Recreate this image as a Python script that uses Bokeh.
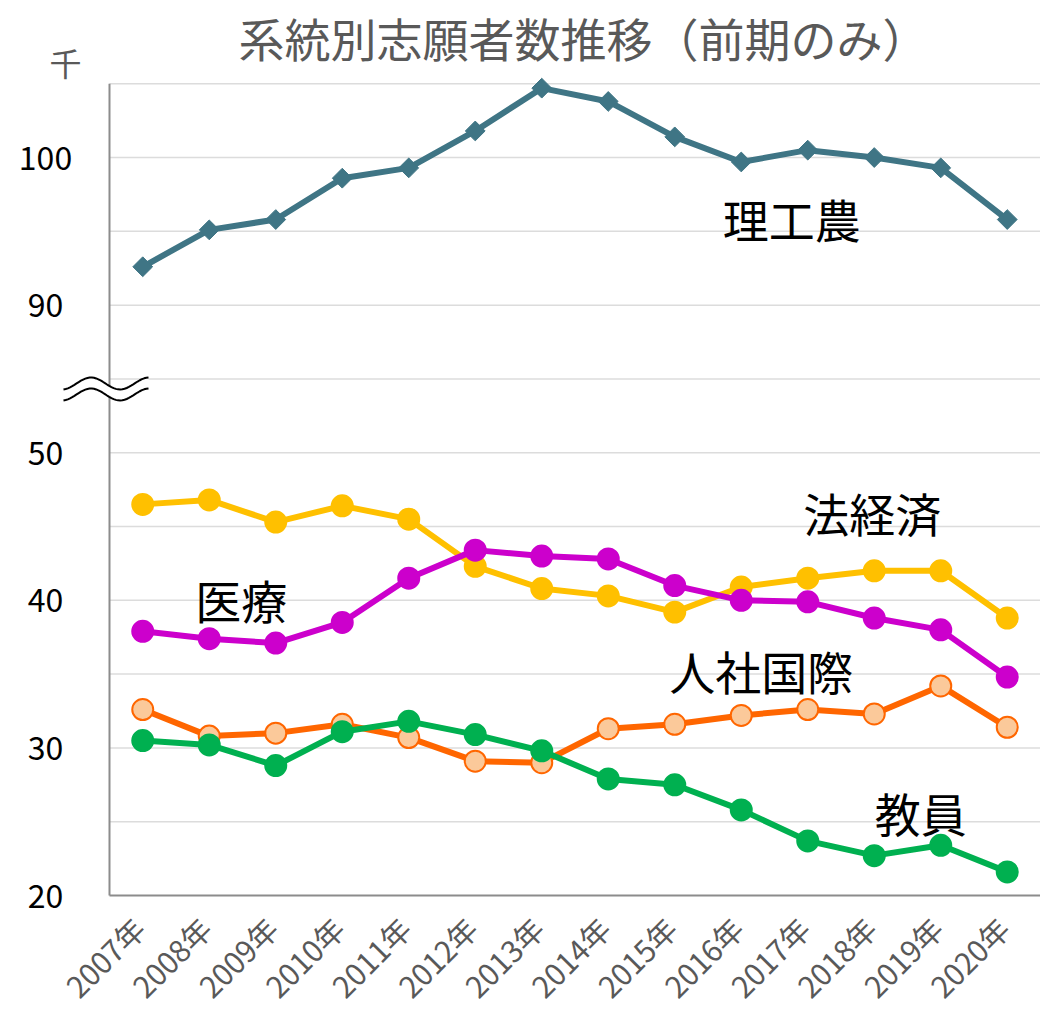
import numpy as np
from bokeh.plotting import figure
from bokeh.models import Range1d, Label
from bokeh.core.properties import value
from bokeh.embed import file_html
from bokeh.resources import INLINE

# ---- data (thousands of applicants) ----
years = list(range(2007, 2021))
year_labels = [f"{y}年" for y in years]
rikounou = [92.6, 95.1, 95.8, 98.6, 99.3, 101.8, 104.7, 103.8, 101.4, 99.7, 100.5, 100.0, 99.3, 95.8]
houkeizai = [46.5, 46.8, 45.3, 46.4, 45.5, 42.3, 40.8, 40.3, 39.2, 40.9, 41.5, 42.0, 42.0, 38.8]
iryou = [37.9, 37.4, 37.1, 38.5, 41.5, 43.4, 43.0, 42.8, 41.0, 40.0, 39.9, 38.8, 38.0, 34.8]
jinsha = [32.6, 30.8, 31.0, 31.6, 30.7, 29.1, 29.0, 31.3, 31.6, 32.2, 32.6, 32.3, 34.2, 31.4]
kyouin = [30.5, 30.2, 28.8, 31.1, 31.8, 30.9, 29.8, 27.9, 27.5, 25.8, 23.7, 22.7, 23.4, 21.6]
y_tick_values = [20, 30, 40, 50, 90, 100]
grid_values = [25, 30, 35, 40, 45, 50, 55, 90, 95, 100, 105]   # 55 sits just under the break
BREAK_LOW = 55      # values above the axis break are drawn shifted down
BREAK_SHIFT = 30


def disp(v):
    return v - BREAK_SHIFT if v > BREAK_LOW else v


FONT = "Noto Sans CJK JP"
GRAY = "#595959"
W, H = 1040, 1017

# plotting window: the frame covers the whole canvas
YMIN, YTOP = 20.0, 80.64           # value at the x axis (895 px) and at the canvas top
AXIS_PX = 895
Y_PER_PX = (YTOP - YMIN) / AXIS_PX
X0, X1 = 2004.861, 2020.5
Y0, Y1 = YTOP - H * Y_PER_PX, YTOP
XA0, XA1 = 2006.5, 2020.5          # extent of the plot area

p = figure(width=W, height=H, output_backend="svg", toolbar_location=None,
           x_range=Range1d(X0, X1), y_range=Range1d(Y0, Y1),
           x_axis_location=None, y_axis_location=None,
           min_border_left=0, min_border_right=0, min_border_top=0, min_border_bottom=0)
p.outline_line_color = None
p.background_fill_color = "white"
p.border_fill_color = "white"
p.xgrid.visible = False
p.ygrid.visible = False


def px2x(px):
    return X0 + px * (X1 - X0) / W


def py2y(py):
    return Y1 - py * Y_PER_PX


# horizontal grid lines
gy = [disp(g) for g in grid_values]
p.segment(x0=[XA0] * len(gy), y0=gy, x1=[XA1] * len(gy), y1=gy, line_color="#dcdcdc", line_width=1.5)
# axis lines
p.segment(x0=[XA0, XA0], y0=[YMIN, YMIN], x1=[XA0, XA1], y1=[disp(105), YMIN],
          line_color="#8c8c8c", line_width=2)

# y tick labels (centred, like the original)
yt = [disp(v) for v in y_tick_values]
p.text(x=[px2x(45)] * len(yt), y=yt, text=[str(v) for v in y_tick_values],
       text_font=value(FONT), text_font_size=value("32px"), text_color="black",
       text_align="center", text_baseline="middle")

# x tick labels, rotated 45 degrees
dx = 4 * (X1 - X0) / W
p.text(x=[y - dx for y in years], y=[py2y(922)] * len(years), text=year_labels, angle=np.pi / 4,
       text_font=value(FONT), text_font_size=value("30px"), text_color=GRAY,
       text_align="right", text_baseline="middle")

# series
LW = 6
c_r = "#3f7585"
p.line(years, [disp(v) for v in rikounou], line_color=c_r, line_width=LW)
p.scatter(years, [disp(v) for v in rikounou], marker="square", angle=np.pi / 4, size=14,
          fill_color=c_r, line_color=c_r)

for vals, col, fill in [(houkeizai, "#ffc000", "#ffc000"),
                        (iryou, "#cc00cc", "#cc00cc"),
                        (jinsha, "#ff6600", "#fbc99a"),
                        (kyouin, "#00b050", "#00b050")]:
    p.line(years, vals, line_color=col, line_width=LW)
    p.scatter(years, vals, marker="circle", size=21, fill_color=fill, line_color=col,
              line_width=2)

# series names
for txt, x, y in [("理工農", 2016.76, 65.87), ("法経済", 2017.97, 45.97), ("医療", 2008.48, 40.07),
                  ("人社国際", 2016.3, 35.27), ("教員", 2018.7, 25.67)]:
    p.add_layout(Label(x=x, y=y, text=txt, text_font=FONT, text_font_size="46px",
                       text_color="black", text_align="center", text_baseline="middle"))

# title and unit
p.add_layout(Label(x=px2x(583), y=py2y(3), text="系統別志願者数推移（前期のみ）", text_font=FONT,
                   text_font_size="46px", text_color=GRAY, text_align="center",
                   text_baseline="top"))
p.add_layout(Label(x=px2x(65), y=py2y(61), text="千", text_font=FONT, text_font_size="32px",
                   text_color=GRAY, text_align="center", text_baseline="middle"))

# axis-break mark (decoration)
pxs = np.linspace(63, 148, 40)
wave = 6 * np.sin(2 * np.pi * (pxs - 76) / 58)
bx = [px2x(v) for v in pxs]
up = [py2y(v) for v in 383 - wave]
lo = [py2y(v) for v in 394 - wave]
p.patch(bx + bx[::-1], up + lo[::-1], fill_color="white", line_color=None)
p.line(bx, up, line_color="black", line_width=2)
p.line(bx, lo, line_color="black", line_width=2)

open("out.html", "w").write(file_html(p, INLINE))
